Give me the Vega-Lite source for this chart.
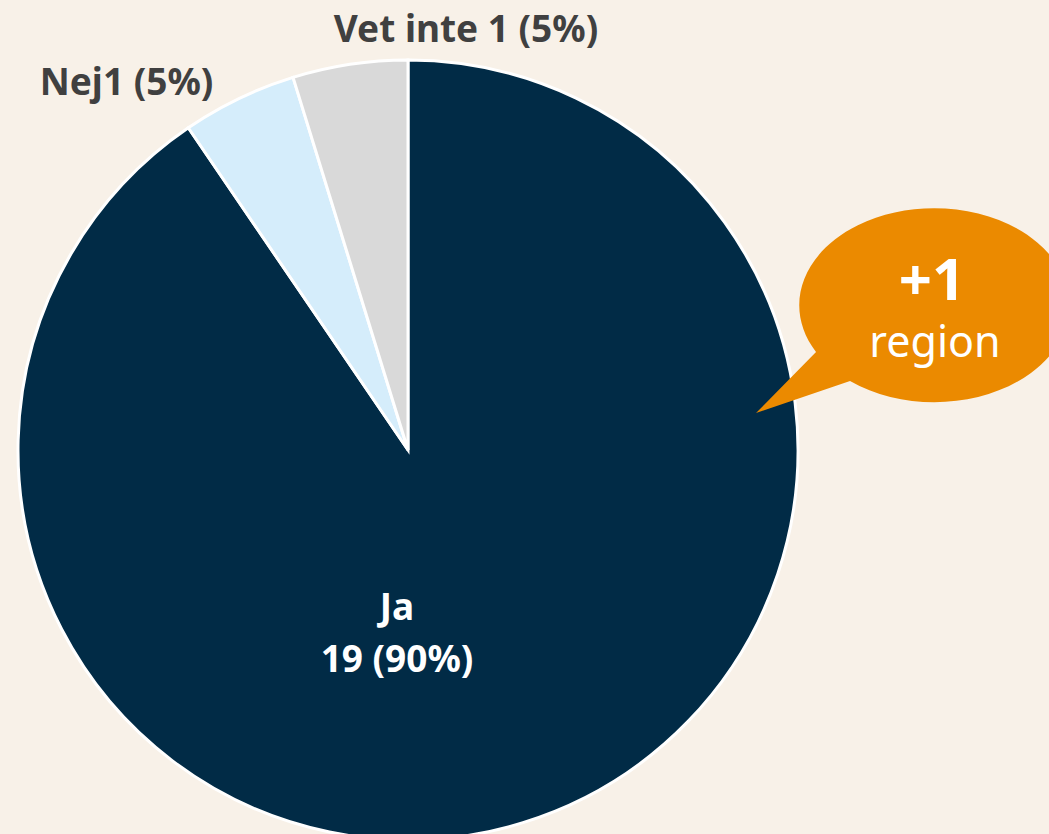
{
  "$schema": "https://vega.github.io/schema/vega-lite/v6.json",
  "width": 1049,
  "height": 834,
  "padding": 0,
  "autosize": "none",
  "background": "#F8F1E8",
  "config": {"view": {"stroke": null}, "font": "Noto Sans"},
  "datasets": {
    "answers": [
      {"svar": "Ja", "antal": 19, "etikett": "Ja\n19 (90%)"},
      {"svar": "Nej", "antal": 1, "etikett": "Nej1 (5%)"},
      {"svar": "Vet inte", "antal": 1, "etikett": "Vet inte 1 (5%)"}
    ],
    "note": [{"big": "+1", "small": "region"}]
  },
  "data": {"name": "answers"},
  "layer": [
    {
      "mark": {"type": "arc", "outerRadius": 390, "stroke": "white", "strokeWidth": 3},
      "encoding": {
        "theta": {"field": "antal", "type": "quantitative", "stack": true},
        "color": {
          "field": "svar",
          "type": "nominal",
          "scale": {"domain": ["Ja", "Nej", "Vet inte"], "range": ["#012B46", "#D5EDFB", "#D9D9D9"]},
          "legend": null
        },
        "x": {"datum": 0, "type": "quantitative", "scale": {"domain": [-1.04615, 1.64359], "nice": false, "zero": false}, "axis": null},
        "y": {"datum": 0, "type": "quantitative", "scale": {"domain": [-0.98462, 1.15385], "nice": false, "zero": false}, "axis": null}
      }
    },
    {
      "transform": [{"filter": "datum.svar === 'Ja'"}],
      "mark": {"type": "text", "fontSize": 37, "fontWeight": "bold", "color": "white", "align": "center", "baseline": "alphabetic", "lineBreak": "\n", "lineHeight": 52},
      "encoding": {
        "text": {"field": "etikett"},
        "x": {"datum": -0.0282, "type": "quantitative"},
        "y": {"datum": -0.436, "type": "quantitative"}
      }
    },
    {
      "transform": [{"filter": "datum.svar === 'Nej'"}],
      "mark": {"type": "text", "fontSize": 37, "fontWeight": "bold", "color": "#404040", "align": "center", "baseline": "alphabetic"},
      "encoding": {
        "text": {"field": "etikett"},
        "x": {"datum": -0.7218, "type": "quantitative"},
        "y": {"datum": 0.91, "type": "quantitative"}
      }
    },
    {
      "transform": [{"filter": "datum.svar === 'Vet inte'"}],
      "mark": {"type": "text", "fontSize": 37, "fontWeight": "bold", "color": "#404040", "align": "center", "baseline": "alphabetic"},
      "encoding": {
        "text": {"field": "etikett"},
        "x": {"datum": 0.1487, "type": "quantitative"},
        "y": {"datum": 1.046, "type": "quantitative"}
      }
    },
    {
      "data": {"name": "note"},
      "mark": {"type": "point", "shape": "M -1.17 0.49 L -1.77 1.1 L -0.83 0.78 A 1.35 0.97 0 1 0 -1.17 0.49 Z", "size": 40000, "filled": true, "color": "#EB8A00", "opacity": 1, "strokeWidth": 0},
      "encoding": {
        "x": {"datum": 1.3462, "type": "quantitative"},
        "y": {"datum": 0.3769, "type": "quantitative"}
      }
    },
    {
      "data": {"name": "note"},
      "mark": {"type": "text", "fontSize": 58, "fontWeight": "bold", "color": "white", "align": "center", "baseline": "alphabetic"},
      "encoding": {
        "text": {"field": "big"},
        "x": {"datum": 1.3436, "type": "quantitative"},
        "y": {"datum": 0.3846, "type": "quantitative"}
      }
    },
    {
      "data": {"name": "note"},
      "mark": {"type": "text", "fontSize": 43, "fontWeight": "normal", "color": "white", "align": "center", "baseline": "alphabetic"},
      "encoding": {
        "text": {"field": "small"},
        "x": {"datum": 1.3513, "type": "quantitative"},
        "y": {"datum": 0.2385, "type": "quantitative"}
      }
    }
  ]
}
